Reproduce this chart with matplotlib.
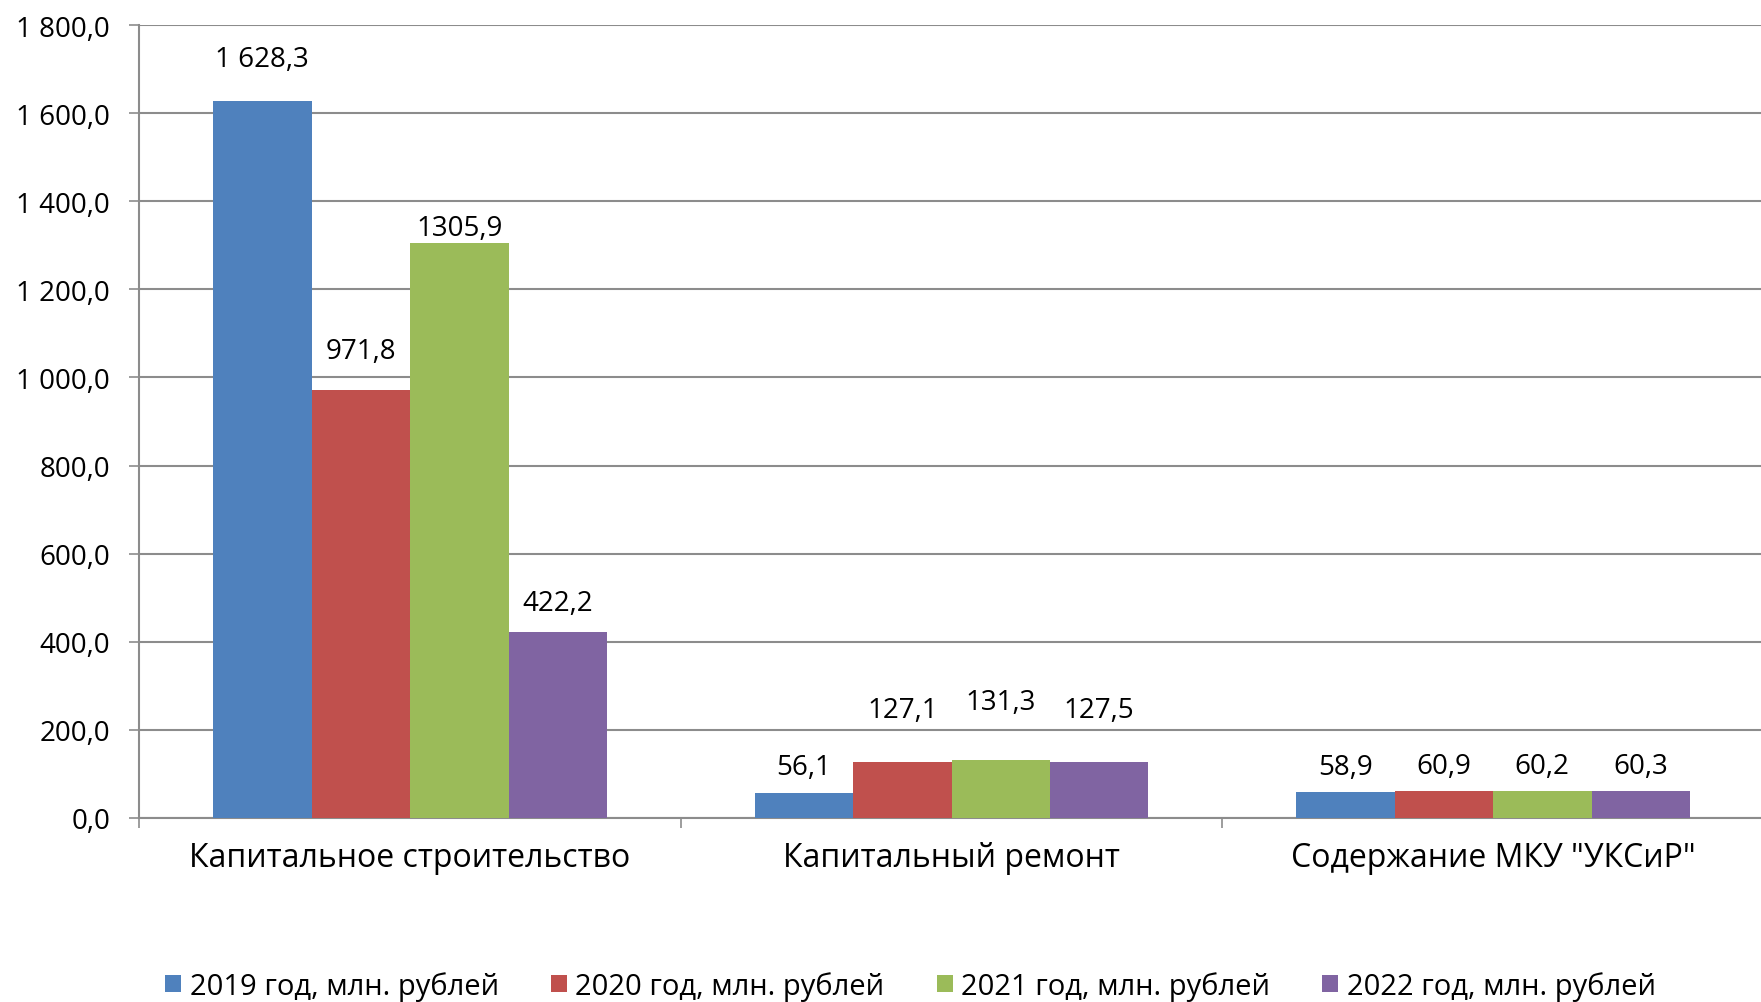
import matplotlib
matplotlib.use("Agg")
import matplotlib.pyplot as plt
import numpy as np

plt.rcParams['font.family'] = ['Open Sans', 'DejaVu Sans']

categories = ["Капитальное строительство", "Капитальный ремонт", 'Содержание МКУ "УКСиР"']
series_names = ["2019 год, млн. рублей", "2020 год, млн. рублей",
                "2021 год, млн. рублей", "2022 год, млн. рублей"]
values_2019 = [1628.3, 56.1, 58.9]
values_2020 = [971.8, 127.1, 60.9]
values_2021 = [1305.9, 131.3, 60.2]
values_2022 = [422.2, 127.5, 60.3]
labels_2019 = ["1 628,3", "56,1", "58,9"]
labels_2020 = ["971,8", "127,1", "60,9"]
labels_2021 = ["1305,9", "131,3", "60,2"]
labels_2022 = ["422,2", "127,5", "60,3"]

y_ticks = [0, 200, 400, 600, 800, 1000, 1200, 1400, 1600, 1800]
y_tick_labels = ["0,0", "200,0", "400,0", "600,0", "800,0", "1 000,0",
                 "1 200,0", "1 400,0", "1 600,0", "1 800,0"]

colors = ["#4F81BD", "#C0504D", "#9BBB59", "#8064A2"]
# label offsets above bar tops (points), as placed in the original
label_offsets = [[30, 19, 18], [28, 37, 18], [11, 42, 18], [21, 37, 18]]

all_values = [values_2019, values_2020, values_2021, values_2022]
all_labels = [labels_2019, labels_2020, labels_2021, labels_2022]

fig = plt.figure(figsize=(17.61, 10.03), dpi=100)
ax = fig.add_axes([0.0791, 0.1837, 0.9225, 0.7901])

x = np.arange(len(categories))
bar_w = 1 / 5.5
grid_c = "#8C8C8C"

handles = []
for i, (vals, labs) in enumerate(zip(all_values, all_labels)):
    pos = x - 2 * bar_w + (i + 0.5) * bar_w
    b = ax.bar(pos, vals, width=bar_w, color=colors[i], zorder=3, label=series_names[i])
    handles.append(b)
    for j, (p, v, t) in enumerate(zip(pos, vals, labs)):
        ax.annotate(t, (p, v), xytext=(0, label_offsets[i][j]), textcoords="offset points",
                    ha="center", va="center", fontsize=20)

ax.set_xlim(-0.5, 2.5)
ax.set_ylim(0, 1800)
ax.set_yticks(y_ticks)
ax.set_yticklabels(y_tick_labels, fontsize=20)
ax.yaxis.grid(True, color=grid_c, linewidth=1.5, zorder=0)
ax.set_axisbelow(True)

ax.set_xticks(x)
ax.set_xticklabels(categories, fontsize=23)
ax.set_xticks([-0.5, 0.5, 1.5, 2.5], minor=True)
ax.tick_params(axis="x", which="major", length=0, pad=17)
ax.tick_params(axis="x", which="minor", length=7, width=1.2, color=grid_c)
ax.tick_params(axis="y", length=7, width=1.2, color=grid_c, pad=14)

for s in ["top", "right"]:
    ax.spines[s].set_visible(False)
for s in ["left", "bottom"]:
    ax.spines[s].set_color(grid_c)
    ax.spines[s].set_linewidth(1.5)

fig.legend(handles=handles, loc="center", bbox_to_anchor=(0.517, 0.016), ncol=4,
           frameon=False, fontsize=21, handlelength=0.55, handleheight=0.55,
           handletextpad=0.3, columnspacing=1.78)

fig.savefig("out.png", dpi=100)
